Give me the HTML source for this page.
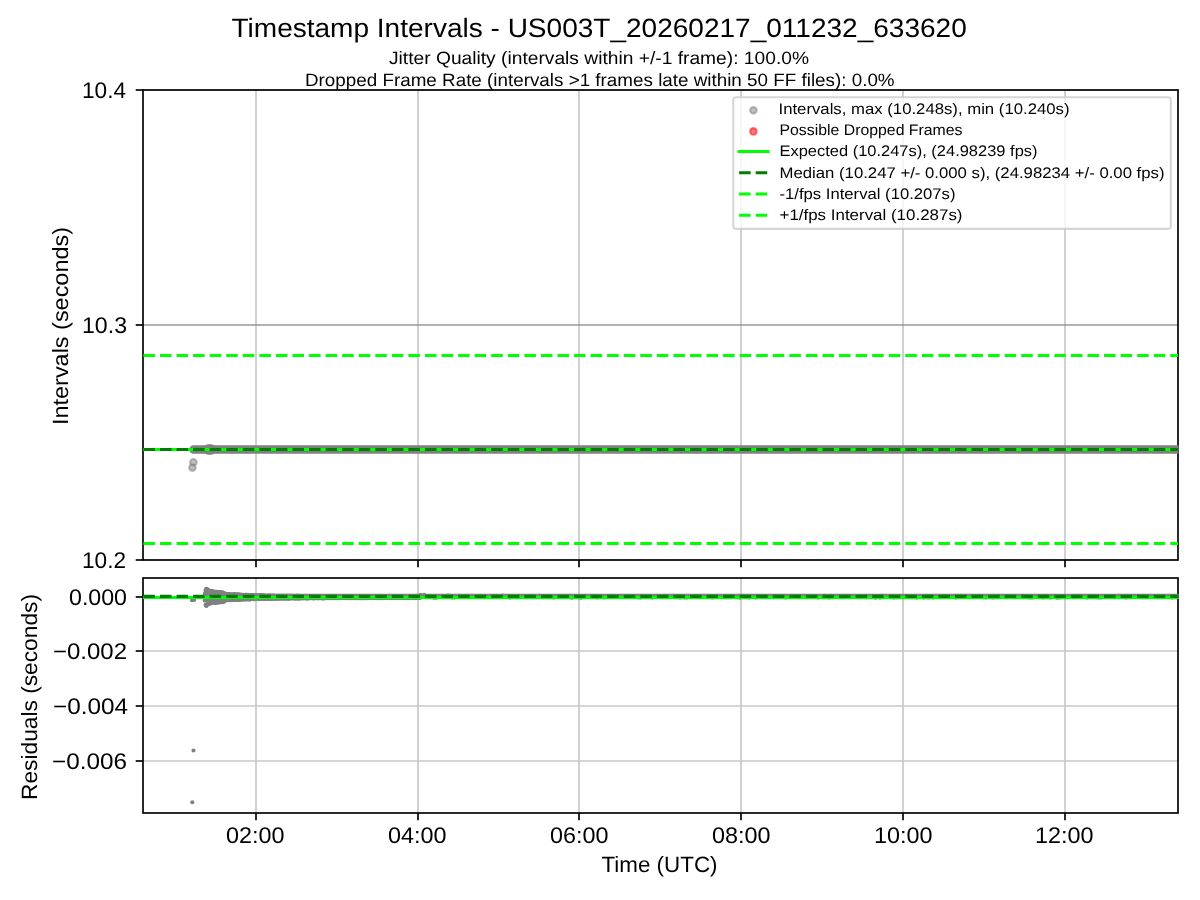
<!DOCTYPE html>
<html><head><meta charset="utf-8"><title>Timestamp Intervals</title>
<style>
html,body{margin:0;padding:0;background:#fff;}
body{width:1200px;height:900px;overflow:hidden;}
svg{display:block;will-change:transform;}
svg text{font-family:"Liberation Sans",sans-serif;fill:#000;text-rendering:geometricPrecision;}
</style></head><body>
<svg xmlns="http://www.w3.org/2000/svg" width="1200" height="900" viewBox="0 0 1200 900">
<rect x="0" y="0" width="1200" height="900" fill="#ffffff"/>
<defs><clipPath id="c1"><rect x="143" y="90" width="1035.6" height="470"/></clipPath><clipPath id="c2"><rect x="143" y="578" width="1035.6" height="235"/></clipPath></defs>
<g id="ax1">
<g stroke="#c8c8c8" stroke-width="1.667" fill="none">
<line x1="256" y1="90" x2="256" y2="560"/>
<line x1="418" y1="90" x2="418" y2="560"/>
<line x1="579" y1="90" x2="579" y2="560"/>
<line x1="741" y1="90" x2="741" y2="560"/>
<line x1="903" y1="90" x2="903" y2="560"/>
<line x1="1065" y1="90" x2="1065" y2="560"/>
<line x1="143" y1="90" x2="1178" y2="90"/>
<line x1="143" y1="560" x2="1178" y2="560"/>
</g>
<line x1="143" y1="325" x2="1178" y2="325" stroke="#808080" stroke-opacity="0.8" stroke-width="1.667"/>
<g stroke="#000" stroke-width="1.667">
<line x1="135.7" y1="90" x2="143" y2="90"/>
<line x1="135.7" y1="325" x2="143" y2="325"/>
<line x1="135.7" y1="560" x2="143" y2="560"/>
<line x1="256" y1="560" x2="256" y2="567.3"/>
<line x1="418" y1="560" x2="418" y2="567.3"/>
<line x1="579" y1="560" x2="579" y2="567.3"/>
<line x1="741" y1="560" x2="741" y2="567.3"/>
<line x1="903" y1="560" x2="903" y2="567.3"/>
<line x1="1065" y1="560" x2="1065" y2="567.3"/>
</g>
<rect x="143" y="90" width="1035" height="470" fill="none" stroke="#000" stroke-width="1.667"/>
<g clip-path="url(#c1)">
<line x1="193.6" y1="449.5" x2="1190" y2="449.5" stroke="#808080" stroke-width="8.7" stroke-linecap="round"/>
<line x1="208.2" y1="449.4" x2="211.2" y2="449.4" stroke="#808080" stroke-width="10.5" stroke-linecap="round"/>
<circle cx="193.4" cy="462.3" r="3.29" fill="#808080" fill-opacity="0.5" stroke="#808080" stroke-opacity="0.5" stroke-width="2.08"/>
<circle cx="192.4" cy="467.6" r="3.29" fill="#808080" fill-opacity="0.5" stroke="#808080" stroke-opacity="0.5" stroke-width="2.08"/>
<line x1="143" y1="449.5" x2="1178" y2="449.5" stroke="#00ff00" stroke-width="3.125"/>
<line x1="143.4" y1="449.45" x2="1178" y2="449.45" stroke="#008000" stroke-width="3.125" stroke-dasharray="11.5625 5"/>
<line x1="143.4" y1="543.5" x2="1178" y2="543.5" stroke="#00ff00" stroke-width="3.125" stroke-dasharray="11.5625 5"/>
<line x1="143.4" y1="355.5" x2="1178" y2="355.5" stroke="#00ff00" stroke-width="3.125" stroke-dasharray="11.5625 5"/>
</g>
<g id="legend">
<rect x="733.3" y="97.2" width="437.5" height="131.7" rx="2.9" ry="2.9" fill="#ffffff" fill-opacity="0.8" stroke="#cccccc" stroke-opacity="0.8" stroke-width="2.083"/>
<circle cx="753.4" cy="110.3" r="3.29" fill="#808080" fill-opacity="0.5" stroke="#808080" stroke-opacity="0.5" stroke-width="2.08"/>
<circle cx="753.4" cy="131.4" r="3.29" fill="#ff0000" fill-opacity="0.5" stroke="#ff0000" stroke-opacity="0.5" stroke-width="2.08"/>
<line x1="737.5" y1="151.5" x2="769.6" y2="151.5" stroke="#00ff00" stroke-width="3.125"/>
<line x1="739.1" y1="172.8" x2="768.0" y2="172.8" stroke="#008000" stroke-width="3.125" stroke-dasharray="11.5625 5"/>
<line x1="739.1" y1="194.0" x2="768.0" y2="194.0" stroke="#00ff00" stroke-width="3.125" stroke-dasharray="11.5625 5"/>
<line x1="739.1" y1="215.2" x2="768.0" y2="215.2" stroke="#00ff00" stroke-width="3.125" stroke-dasharray="11.5625 5"/>
</g>
</g>
<g id="ax2">
<g stroke="#c8c8c8" stroke-width="1.667" fill="none">
<line x1="256" y1="578" x2="256" y2="813"/>
<line x1="418" y1="578" x2="418" y2="813"/>
<line x1="579" y1="578" x2="579" y2="813"/>
<line x1="741" y1="578" x2="741" y2="813"/>
<line x1="903" y1="578" x2="903" y2="813"/>
<line x1="1065" y1="578" x2="1065" y2="813"/>
<line x1="143" y1="597" x2="1178" y2="597"/>
<line x1="143" y1="651" x2="1178" y2="651"/>
<line x1="143" y1="706" x2="1178" y2="706"/>
<line x1="143" y1="761" x2="1178" y2="761"/>
</g>
<g stroke="#000" stroke-width="1.667">
<line x1="135.7" y1="597" x2="143" y2="597"/>
<line x1="135.7" y1="651" x2="143" y2="651"/>
<line x1="135.7" y1="706" x2="143" y2="706"/>
<line x1="135.7" y1="761" x2="143" y2="761"/>
<line x1="256" y1="813" x2="256" y2="820.3"/>
<line x1="418" y1="813" x2="418" y2="820.3"/>
<line x1="579" y1="813" x2="579" y2="820.3"/>
<line x1="741" y1="813" x2="741" y2="820.3"/>
<line x1="903" y1="813" x2="903" y2="820.3"/>
<line x1="1065" y1="813" x2="1065" y2="820.3"/>
</g>
<rect x="143" y="578" width="1035" height="235" fill="none" stroke="#000" stroke-width="1.667"/>
<g clip-path="url(#c2)">
<path d="M205,596.55 L1180,596.55" stroke="#808080" stroke-width="5.5" fill="none"/>
<path d="M204.6,596.6 L206.1,590.5 L207.6,590.9 L209.1,591.6 L210.6,592.1 L212.1,592.3 L213.6,592.4 L215.1,592.6 L216.6,592.8 L218.1,592.9 L219.6,593.1 L221.1,593.2 L222.6,593.4 L224.1,593.6 L225.6,594.4 L227.1,594.7 L228.6,594.7 L230.1,594.8 L231.6,594.8 L233.1,594.8 L234.6,594.9 L236.1,594.9 L237.6,595.0 L239.1,595.0 L240.6,595.1 L242.1,595.1 L243.6,595.2 L245.1,595.3 L246.6,595.3 L248.1,595.4 L249.6,595.4 L251.1,595.5 L252.6,595.6 L254.1,595.6 L255.6,595.7 L257.1,595.7 L258.6,595.7 L260.1,595.7 L261.6,595.8 L263.1,595.8 L264.6,595.8 L266.1,595.8 L267.6,595.8 L269.1,595.9 L270.6,595.9 L272.1,595.9 L273.6,595.9 L275.1,595.9 L276.6,596.0 L278.1,596.0 L279.6,596.0 L281.1,596.0 L282.6,596.0 L284.1,596.0 L285.6,596.0 L287.1,596.1 L288.6,596.1 L290.1,596.1 L291.6,596.1 L293.1,596.1 L294.6,596.1 L296.1,596.1 L297.6,596.1 L299.1,596.2 L300.6,596.2 L302.1,596.2 L303.6,596.2 L305.1,596.2 L306.6,596.2 L308.1,596.2 L309.6,596.2 L311.1,596.2 L312.6,596.2 L314.1,596.2 L315.6,596.2 L317.1,596.2 L318.6,596.2 L320.1,596.2 L321.6,596.2 L323.1,596.2 L324.6,596.2 L326.1,596.2 L327.6,596.2 L329.1,596.3 L330.6,596.3 L332.1,596.3 L333.6,596.3 L335.1,596.3 L336.6,596.3 L338.1,596.3 L339.6,596.3 L341.1,596.3 L342.6,596.3 L344.1,596.3 L345.6,596.3 L347.1,596.3 L348.6,596.3 L350.1,596.3 L351.6,596.3 L353.1,596.3 L354.6,596.3 L356.1,596.3 L357.6,596.3 L359.1,596.3 L360.6,596.4 L362.1,596.4 L363.6,596.4 L365.1,596.4 L366.6,596.4 L368.1,596.4 L369.6,596.4 L371.1,596.4 L372.6,596.4 L374.1,596.4 L375.6,596.4 L377.1,596.4 L378.6,596.4 L380.1,596.4 L381.6,596.4 L383.1,596.4 L384.6,596.4 L386.1,596.4 L387.6,596.4 L389.1,596.4 L390.6,596.4 L392.1,596.5 L393.6,596.5 L395.1,596.5 L396.6,596.5 L398.1,596.5 L399.6,596.5 L401.1,596.5 L402.6,596.5 L404.1,596.5 L405.6,596.5 L407.1,596.5 L408.6,596.5 L410.1,596.5 L411.6,596.5 L413.1,596.5 L414.6,596.5 L416.1,596.5 L417.6,596.5 L419.1,596.5 L419.1,597.9 L417.6,597.9 L416.1,597.9 L414.6,597.9 L413.1,597.9 L411.6,597.9 L410.1,597.9 L408.6,597.9 L407.1,597.9 L405.6,597.9 L404.1,597.9 L402.6,597.9 L401.1,597.9 L399.6,597.9 L398.1,597.9 L396.6,597.9 L395.1,597.9 L393.6,597.9 L392.1,597.9 L390.6,598.0 L389.1,598.0 L387.6,598.0 L386.1,598.0 L384.6,598.0 L383.1,598.0 L381.6,598.0 L380.1,598.0 L378.6,598.0 L377.1,598.0 L375.6,598.0 L374.1,598.0 L372.6,598.0 L371.1,598.0 L369.6,598.0 L368.1,598.0 L366.6,598.0 L365.1,598.0 L363.6,598.0 L362.1,598.0 L360.6,598.0 L359.1,598.1 L357.6,598.1 L356.1,598.1 L354.6,598.1 L353.1,598.1 L351.6,598.1 L350.1,598.1 L348.6,598.1 L347.1,598.1 L345.6,598.1 L344.1,598.1 L342.6,598.1 L341.1,598.1 L339.6,598.1 L338.1,598.1 L336.6,598.1 L335.1,598.1 L333.6,598.1 L332.1,598.1 L330.6,598.1 L329.1,598.1 L327.6,598.2 L326.1,598.2 L324.6,598.2 L323.1,598.2 L321.6,598.2 L320.1,598.2 L318.6,598.2 L317.1,598.2 L315.6,598.2 L314.1,598.2 L312.6,598.2 L311.1,598.2 L309.6,598.2 L308.1,598.2 L306.6,598.2 L305.1,598.2 L303.6,598.2 L302.1,598.2 L300.6,598.2 L299.1,598.2 L297.6,598.3 L296.1,598.3 L294.6,598.3 L293.1,598.3 L291.6,598.3 L290.1,598.3 L288.6,598.3 L287.1,598.3 L285.6,598.4 L284.1,598.4 L282.6,598.4 L281.1,598.4 L279.6,598.4 L278.1,598.4 L276.6,598.4 L275.1,598.5 L273.6,598.5 L272.1,598.5 L270.6,598.5 L269.1,598.5 L267.6,598.6 L266.1,598.6 L264.6,598.6 L263.1,598.6 L261.6,598.6 L260.1,598.7 L258.6,598.7 L257.1,598.7 L255.6,598.7 L254.1,598.8 L252.6,598.8 L251.1,598.9 L249.6,599.0 L248.1,599.0 L246.6,599.1 L245.1,599.1 L243.6,599.2 L242.1,599.3 L240.6,599.3 L239.1,599.4 L237.6,599.4 L236.1,599.5 L234.6,599.5 L233.1,599.6 L231.6,599.6 L230.1,599.6 L228.6,599.7 L227.1,599.7 L225.6,600.0 L224.1,600.8 L222.6,601.0 L221.1,601.2 L219.6,601.3 L218.1,601.5 L216.6,601.6 L215.1,601.8 L213.6,602.0 L212.1,602.1 L210.6,602.3 L209.1,602.8 L207.6,603.5 L206.1,603.9 L204.6,597.8 Z" fill="#808080"/>
<g fill="#808080">
<circle cx="204.8" cy="593.6" r="2.05"/>
<circle cx="204.7" cy="600.4" r="2.05"/>
<circle cx="205.5" cy="590.4" r="2.05"/>
<circle cx="205.6" cy="604.8" r="2.05"/>
<circle cx="206.1" cy="588.8" r="2.05"/>
<circle cx="205.9" cy="605.6" r="2.05"/>
<circle cx="206.8" cy="588.9" r="2.05"/>
<circle cx="206.5" cy="606.0" r="2.05"/>
<circle cx="207.5" cy="590.0" r="2.05"/>
<circle cx="207.1" cy="604.5" r="2.05"/>
<circle cx="207.5" cy="592.0" r="2.05"/>
<circle cx="207.6" cy="603.0" r="2.05"/>
<circle cx="208.1" cy="589.9" r="2.05"/>
<circle cx="208.5" cy="604.3" r="2.05"/>
<circle cx="208.9" cy="590.2" r="2.05"/>
<circle cx="208.8" cy="603.3" r="2.05"/>
<circle cx="209.1" cy="591.1" r="2.05"/>
<circle cx="209.2" cy="604.0" r="2.05"/>
<circle cx="209.9" cy="591.7" r="2.05"/>
<circle cx="210.0" cy="603.5" r="2.05"/>
<circle cx="210.4" cy="591.2" r="2.05"/>
<circle cx="210.6" cy="602.2" r="2.05"/>
<circle cx="211.1" cy="591.0" r="2.05"/>
<circle cx="211.3" cy="602.9" r="2.05"/>
<circle cx="211.5" cy="592.1" r="2.05"/>
<circle cx="211.4" cy="601.4" r="2.05"/>
<circle cx="212.3" cy="591.4" r="2.05"/>
<circle cx="212.1" cy="603.3" r="2.05"/>
<circle cx="212.8" cy="591.1" r="2.05"/>
<circle cx="212.7" cy="602.0" r="2.05"/>
<circle cx="213.1" cy="592.8" r="2.05"/>
<circle cx="213.3" cy="602.2" r="2.05"/>
<circle cx="213.8" cy="592.0" r="2.05"/>
<circle cx="214.1" cy="601.7" r="2.05"/>
<circle cx="214.4" cy="591.8" r="2.05"/>
<circle cx="214.5" cy="603.0" r="2.05"/>
<circle cx="215.2" cy="592.3" r="2.05"/>
<circle cx="214.8" cy="601.6" r="2.05"/>
<circle cx="215.6" cy="591.8" r="2.05"/>
<circle cx="215.4" cy="602.9" r="2.05"/>
<circle cx="215.8" cy="591.7" r="2.05"/>
<circle cx="216.2" cy="602.8" r="2.05"/>
<circle cx="216.4" cy="591.7" r="2.05"/>
<circle cx="216.8" cy="602.4" r="2.05"/>
<circle cx="217.1" cy="591.7" r="2.05"/>
<circle cx="217.3" cy="602.1" r="2.05"/>
<circle cx="217.9" cy="593.1" r="2.05"/>
<circle cx="217.6" cy="602.4" r="2.05"/>
<circle cx="218.4" cy="592.1" r="2.05"/>
<circle cx="218.0" cy="600.8" r="2.05"/>
<circle cx="218.6" cy="592.0" r="2.05"/>
<circle cx="218.7" cy="602.4" r="2.05"/>
<circle cx="219.2" cy="592.6" r="2.05"/>
<circle cx="219.3" cy="602.4" r="2.05"/>
<circle cx="219.9" cy="592.3" r="2.05"/>
<circle cx="220.0" cy="600.7" r="2.05"/>
<circle cx="220.5" cy="592.6" r="2.05"/>
<circle cx="220.1" cy="601.4" r="2.05"/>
<circle cx="221.1" cy="593.6" r="2.05"/>
<circle cx="221.1" cy="600.8" r="2.05"/>
<circle cx="221.4" cy="592.6" r="2.05"/>
<circle cx="221.6" cy="602.1" r="2.05"/>
<circle cx="221.8" cy="592.4" r="2.05"/>
<circle cx="221.8" cy="602.0" r="2.05"/>
<circle cx="222.3" cy="592.6" r="2.05"/>
<circle cx="222.4" cy="602.0" r="2.05"/>
<circle cx="223.1" cy="592.5" r="2.05"/>
<circle cx="223.4" cy="601.9" r="2.05"/>
<circle cx="223.5" cy="593.2" r="2.05"/>
<circle cx="223.6" cy="601.7" r="2.05"/>
<circle cx="224.0" cy="593.0" r="2.05"/>
<circle cx="224.5" cy="600.5" r="2.05"/>
<circle cx="224.8" cy="593.5" r="2.05"/>
<circle cx="224.6" cy="601.2" r="2.05"/>
<circle cx="225.2" cy="593.7" r="2.05"/>
<circle cx="225.1" cy="600.0" r="2.05"/>
<circle cx="226.2" cy="593.9" r="2.05"/>
<circle cx="225.7" cy="600.2" r="2.05"/>
<circle cx="226.2" cy="594.3" r="2.05"/>
<circle cx="226.7" cy="600.1" r="2.05"/>
<circle cx="227.1" cy="594.9" r="2.05"/>
<circle cx="226.9" cy="600.3" r="2.05"/>
<circle cx="227.7" cy="594.1" r="2.05"/>
<circle cx="227.7" cy="600.0" r="2.05"/>
<circle cx="227.9" cy="594.2" r="2.05"/>
<circle cx="228.4" cy="599.6" r="2.05"/>
<circle cx="228.8" cy="594.9" r="2.05"/>
<circle cx="228.8" cy="599.6" r="2.05"/>
<circle cx="229.2" cy="594.2" r="2.05"/>
<circle cx="228.9" cy="600.1" r="2.05"/>
<circle cx="229.6" cy="594.1" r="2.05"/>
<circle cx="229.9" cy="600.2" r="2.05"/>
<circle cx="230.3" cy="595.1" r="2.05"/>
<circle cx="230.6" cy="599.3" r="2.05"/>
<circle cx="230.8" cy="595.1" r="2.05"/>
<circle cx="230.7" cy="600.2" r="2.05"/>
<circle cx="231.2" cy="594.2" r="2.05"/>
<circle cx="231.6" cy="599.8" r="2.05"/>
<circle cx="231.9" cy="595.0" r="2.05"/>
<circle cx="232.1" cy="599.7" r="2.05"/>
<circle cx="232.6" cy="594.2" r="2.05"/>
<circle cx="232.7" cy="599.3" r="2.05"/>
<circle cx="233.0" cy="594.8" r="2.05"/>
<circle cx="233.2" cy="600.1" r="2.05"/>
<circle cx="233.8" cy="594.4" r="2.05"/>
<circle cx="233.5" cy="599.2" r="2.05"/>
<circle cx="234.4" cy="594.5" r="2.05"/>
<circle cx="234.0" cy="599.6" r="2.05"/>
<circle cx="234.5" cy="594.3" r="2.05"/>
<circle cx="234.9" cy="599.3" r="2.05"/>
<circle cx="235.4" cy="594.4" r="2.05"/>
<circle cx="235.3" cy="599.1" r="2.05"/>
<circle cx="235.8" cy="594.5" r="2.05"/>
<circle cx="235.5" cy="600.0" r="2.05"/>
<circle cx="236.4" cy="595.3" r="2.05"/>
<circle cx="236.6" cy="599.8" r="2.05"/>
<circle cx="237.1" cy="594.6" r="2.05"/>
<circle cx="236.7" cy="599.3" r="2.05"/>
<circle cx="237.3" cy="594.5" r="2.05"/>
<circle cx="237.5" cy="599.9" r="2.05"/>
<circle cx="238.0" cy="594.5" r="2.05"/>
<circle cx="238.2" cy="600.0" r="2.05"/>
<circle cx="238.5" cy="594.6" r="2.05"/>
<circle cx="238.8" cy="599.6" r="2.05"/>
<circle cx="239.4" cy="594.6" r="2.05"/>
<circle cx="239.1" cy="599.7" r="2.05"/>
<circle cx="239.4" cy="594.7" r="2.05"/>
<circle cx="239.5" cy="599.7" r="2.05"/>
<circle cx="240.4" cy="594.5" r="2.05"/>
<circle cx="240.2" cy="599.9" r="2.05"/>
<circle cx="240.8" cy="595.0" r="2.05"/>
<circle cx="240.8" cy="599.8" r="2.05"/>
<circle cx="241.5" cy="594.9" r="2.05"/>
<circle cx="241.3" cy="599.8" r="2.05"/>
<circle cx="241.7" cy="594.7" r="2.05"/>
<circle cx="241.9" cy="599.3" r="2.05"/>
<circle cx="242.6" cy="594.9" r="2.05"/>
<circle cx="242.4" cy="599.0" r="2.05"/>
<circle cx="243.0" cy="595.0" r="2.05"/>
<circle cx="243.1" cy="599.5" r="2.05"/>
<circle cx="243.5" cy="594.9" r="2.05"/>
<circle cx="243.8" cy="599.5" r="2.05"/>
<circle cx="244.3" cy="595.1" r="2.05"/>
<circle cx="243.9" cy="598.9" r="2.05"/>
<circle cx="244.9" cy="595.0" r="2.05"/>
<circle cx="244.4" cy="599.0" r="2.05"/>
<circle cx="245.1" cy="594.8" r="2.05"/>
<circle cx="245.0" cy="599.6" r="2.05"/>
<circle cx="245.8" cy="594.8" r="2.05"/>
<circle cx="245.9" cy="599.1" r="2.05"/>
<circle cx="246.4" cy="594.9" r="2.05"/>
<circle cx="246.0" cy="599.2" r="2.05"/>
<circle cx="247.1" cy="595.5" r="2.05"/>
<circle cx="247.1" cy="599.5" r="2.05"/>
<circle cx="247.3" cy="595.0" r="2.05"/>
<circle cx="247.5" cy="598.7" r="2.05"/>
<circle cx="247.9" cy="594.9" r="2.05"/>
<circle cx="247.8" cy="599.3" r="2.05"/>
<circle cx="248.3" cy="595.0" r="2.05"/>
<circle cx="248.2" cy="599.0" r="2.05"/>
<circle cx="249.0" cy="595.2" r="2.05"/>
<circle cx="248.9" cy="599.4" r="2.05"/>
<circle cx="249.6" cy="595.3" r="2.05"/>
<circle cx="249.8" cy="599.4" r="2.05"/>
<circle cx="250.4" cy="595.5" r="2.05"/>
<circle cx="250.0" cy="599.4" r="2.05"/>
<circle cx="250.8" cy="595.1" r="2.05"/>
<circle cx="250.4" cy="599.3" r="2.05"/>
<circle cx="251.4" cy="595.2" r="2.05"/>
<circle cx="251.1" cy="598.8" r="2.05"/>
<circle cx="252.0" cy="595.1" r="2.05"/>
<circle cx="251.9" cy="599.0" r="2.05"/>
<circle cx="252.0" cy="595.2" r="2.05"/>
<circle cx="252.3" cy="598.9" r="2.05"/>
<circle cx="253.1" cy="595.2" r="2.05"/>
<circle cx="253.0" cy="598.9" r="2.05"/>
<circle cx="253.6" cy="595.2" r="2.05"/>
<circle cx="253.6" cy="599.2" r="2.05"/>
<circle cx="253.9" cy="595.4" r="2.05"/>
<circle cx="254.2" cy="598.9" r="2.05"/>
<circle cx="254.3" cy="595.3" r="2.05"/>
<circle cx="254.3" cy="598.9" r="2.05"/>
<circle cx="254.8" cy="595.3" r="2.05"/>
<circle cx="254.9" cy="599.1" r="2.05"/>
<circle cx="255.5" cy="595.4" r="2.05"/>
<circle cx="255.5" cy="598.7" r="2.05"/>
<circle cx="256.0" cy="595.5" r="2.05"/>
<circle cx="255.9" cy="599.0" r="2.05"/>
<circle cx="256.4" cy="595.4" r="2.05"/>
<circle cx="256.7" cy="598.7" r="2.05"/>
<circle cx="257.2" cy="595.4" r="2.05"/>
<circle cx="257.0" cy="598.5" r="2.05"/>
<circle cx="257.8" cy="595.8" r="2.05"/>
<circle cx="258.0" cy="598.9" r="2.05"/>
<circle cx="258.4" cy="595.5" r="2.05"/>
<circle cx="258.6" cy="598.7" r="2.05"/>
<circle cx="259.1" cy="595.4" r="2.05"/>
<circle cx="259.0" cy="598.7" r="2.05"/>
<circle cx="259.4" cy="595.5" r="2.05"/>
<circle cx="259.2" cy="599.0" r="2.05"/>
<circle cx="260.1" cy="595.4" r="2.05"/>
<circle cx="259.8" cy="599.0" r="2.05"/>
<circle cx="260.8" cy="595.4" r="2.05"/>
<circle cx="260.7" cy="598.5" r="2.05"/>
<circle cx="260.9" cy="595.4" r="2.05"/>
<circle cx="261.1" cy="598.9" r="2.05"/>
<circle cx="261.6" cy="595.4" r="2.05"/>
<circle cx="261.9" cy="599.0" r="2.05"/>
<circle cx="262.2" cy="596.0" r="2.05"/>
<circle cx="262.5" cy="598.9" r="2.05"/>
<circle cx="262.7" cy="595.5" r="2.05"/>
<circle cx="262.7" cy="599.0" r="2.05"/>
<circle cx="263.3" cy="595.6" r="2.05"/>
<circle cx="263.3" cy="598.9" r="2.05"/>
<circle cx="263.7" cy="595.4" r="2.05"/>
<circle cx="263.8" cy="599.0" r="2.05"/>
<circle cx="264.1" cy="595.5" r="2.05"/>
<circle cx="264.2" cy="598.9" r="2.05"/>
<circle cx="265.0" cy="595.7" r="2.05"/>
<circle cx="265.0" cy="598.6" r="2.05"/>
<circle cx="265.7" cy="595.8" r="2.05"/>
<circle cx="265.4" cy="598.8" r="2.05"/>
<circle cx="265.8" cy="596.1" r="2.05"/>
<circle cx="266.1" cy="598.6" r="2.05"/>
<circle cx="266.8" cy="595.5" r="2.05"/>
<circle cx="266.7" cy="598.4" r="2.05"/>
<circle cx="267.3" cy="595.8" r="2.05"/>
<circle cx="267.2" cy="598.9" r="2.05"/>
<circle cx="267.9" cy="595.7" r="2.05"/>
<circle cx="267.9" cy="598.5" r="2.05"/>
<circle cx="268.5" cy="595.7" r="2.05"/>
<circle cx="268.4" cy="598.6" r="2.05"/>
<circle cx="268.5" cy="595.6" r="2.05"/>
<circle cx="268.7" cy="598.9" r="2.05"/>
<circle cx="269.6" cy="595.5" r="2.05"/>
<circle cx="269.4" cy="598.7" r="2.05"/>
<circle cx="270.0" cy="595.8" r="2.05"/>
<circle cx="269.6" cy="598.7" r="2.05"/>
<circle cx="270.6" cy="595.9" r="2.05"/>
<circle cx="270.5" cy="598.7" r="2.05"/>
<circle cx="270.7" cy="595.8" r="2.05"/>
<circle cx="270.9" cy="598.5" r="2.05"/>
<circle cx="271.4" cy="595.6" r="2.05"/>
<circle cx="271.4" cy="598.5" r="2.05"/>
<circle cx="272.4" cy="595.9" r="2.05"/>
<circle cx="272.0" cy="598.7" r="2.05"/>
<circle cx="272.8" cy="595.7" r="2.05"/>
<circle cx="272.7" cy="598.5" r="2.05"/>
<circle cx="272.9" cy="595.8" r="2.05"/>
<circle cx="273.1" cy="598.8" r="2.05"/>
<circle cx="273.6" cy="595.9" r="2.05"/>
<circle cx="273.5" cy="598.6" r="2.05"/>
<circle cx="274.2" cy="595.6" r="2.05"/>
<circle cx="274.4" cy="598.5" r="2.05"/>
<circle cx="274.7" cy="595.9" r="2.05"/>
<circle cx="274.8" cy="598.6" r="2.05"/>
<circle cx="275.2" cy="595.7" r="2.05"/>
<circle cx="275.2" cy="598.3" r="2.05"/>
<circle cx="276.2" cy="596.2" r="2.05"/>
<circle cx="275.9" cy="598.8" r="2.05"/>
<circle cx="276.8" cy="596.0" r="2.05"/>
<circle cx="276.4" cy="598.6" r="2.05"/>
<circle cx="277.3" cy="595.7" r="2.05"/>
<circle cx="277.1" cy="598.7" r="2.05"/>
<circle cx="277.6" cy="595.7" r="2.05"/>
<circle cx="277.4" cy="598.2" r="2.05"/>
<circle cx="278.2" cy="596.0" r="2.05"/>
<circle cx="278.3" cy="598.3" r="2.05"/>
<circle cx="278.9" cy="595.7" r="2.05"/>
<circle cx="278.4" cy="598.6" r="2.05"/>
<circle cx="279.2" cy="595.7" r="2.05"/>
<circle cx="279.1" cy="598.6" r="2.05"/>
<circle cx="279.7" cy="595.7" r="2.05"/>
<circle cx="280.0" cy="598.7" r="2.05"/>
<circle cx="280.5" cy="595.7" r="2.05"/>
<circle cx="280.1" cy="598.3" r="2.05"/>
<circle cx="281.0" cy="596.2" r="2.05"/>
<circle cx="280.8" cy="598.3" r="2.05"/>
<circle cx="281.4" cy="595.8" r="2.05"/>
<circle cx="281.5" cy="598.2" r="2.05"/>
<circle cx="282.0" cy="595.8" r="2.05"/>
<circle cx="281.7" cy="598.6" r="2.05"/>
<circle cx="282.8" cy="595.7" r="2.05"/>
<circle cx="282.8" cy="598.6" r="2.05"/>
<circle cx="283.0" cy="595.8" r="2.05"/>
<circle cx="282.9" cy="598.5" r="2.05"/>
<circle cx="283.9" cy="595.8" r="2.05"/>
<circle cx="283.8" cy="598.3" r="2.05"/>
<circle cx="284.4" cy="595.9" r="2.05"/>
<circle cx="284.2" cy="598.2" r="2.05"/>
<circle cx="284.5" cy="596.0" r="2.05"/>
<circle cx="284.7" cy="598.4" r="2.05"/>
<circle cx="285.4" cy="596.0" r="2.05"/>
<circle cx="285.0" cy="598.6" r="2.05"/>
<circle cx="285.6" cy="596.2" r="2.05"/>
<circle cx="285.8" cy="598.5" r="2.05"/>
<circle cx="286.5" cy="595.8" r="2.05"/>
<circle cx="286.3" cy="598.2" r="2.05"/>
<circle cx="286.8" cy="596.0" r="2.05"/>
<circle cx="286.9" cy="598.5" r="2.05"/>
<circle cx="287.3" cy="595.8" r="2.05"/>
<circle cx="287.7" cy="598.6" r="2.05"/>
<circle cx="287.9" cy="595.9" r="2.05"/>
<circle cx="288.3" cy="598.2" r="2.05"/>
<circle cx="288.4" cy="595.9" r="2.05"/>
<circle cx="288.4" cy="598.6" r="2.05"/>
<circle cx="288.9" cy="595.8" r="2.05"/>
<circle cx="289.0" cy="598.6" r="2.05"/>
<circle cx="289.9" cy="596.0" r="2.05"/>
<circle cx="289.6" cy="598.3" r="2.05"/>
<circle cx="290.3" cy="595.9" r="2.05"/>
<circle cx="290.2" cy="598.5" r="2.05"/>
<circle cx="290.7" cy="595.8" r="2.05"/>
<circle cx="290.6" cy="598.1" r="2.05"/>
<circle cx="291.4" cy="595.9" r="2.05"/>
<circle cx="291.2" cy="598.2" r="2.05"/>
<circle cx="291.7" cy="595.9" r="2.05"/>
<circle cx="291.9" cy="598.5" r="2.05"/>
<circle cx="292.7" cy="596.3" r="2.05"/>
<circle cx="292.2" cy="598.2" r="2.05"/>
<circle cx="293.1" cy="595.8" r="2.05"/>
<circle cx="293.0" cy="598.2" r="2.05"/>
<circle cx="293.3" cy="596.0" r="2.05"/>
<circle cx="293.8" cy="598.5" r="2.05"/>
<circle cx="294.3" cy="596.2" r="2.05"/>
<circle cx="293.9" cy="598.1" r="2.05"/>
<circle cx="294.4" cy="595.9" r="2.05"/>
<circle cx="294.8" cy="598.4" r="2.05"/>
<circle cx="295.3" cy="596.3" r="2.05"/>
<circle cx="295.4" cy="598.4" r="2.05"/>
<circle cx="295.8" cy="596.0" r="2.05"/>
<circle cx="295.9" cy="598.5" r="2.05"/>
<circle cx="296.6" cy="595.9" r="2.05"/>
<circle cx="296.2" cy="598.3" r="2.05"/>
<circle cx="296.7" cy="595.9" r="2.05"/>
<circle cx="297.0" cy="598.3" r="2.05"/>
<circle cx="297.1" cy="595.9" r="2.05"/>
<circle cx="297.4" cy="598.4" r="2.05"/>
<circle cx="297.8" cy="595.9" r="2.05"/>
<circle cx="297.7" cy="598.4" r="2.05"/>
<circle cx="298.5" cy="595.9" r="2.05"/>
<circle cx="298.6" cy="598.1" r="2.05"/>
<circle cx="299.0" cy="596.2" r="2.05"/>
<circle cx="298.9" cy="598.5" r="2.05"/>
<circle cx="299.7" cy="596.3" r="2.05"/>
<circle cx="299.3" cy="598.5" r="2.05"/>
<circle cx="300.3" cy="596.0" r="2.05"/>
<circle cx="300.0" cy="598.4" r="2.05"/>
<circle cx="301.5" cy="596.1" r="2.05"/>
<circle cx="301.0" cy="598.5" r="2.05"/>
<circle cx="302.3" cy="596.0" r="2.05"/>
<circle cx="302.2" cy="598.3" r="2.05"/>
<circle cx="303.6" cy="596.2" r="2.05"/>
<circle cx="303.3" cy="598.4" r="2.05"/>
<circle cx="304.4" cy="596.3" r="2.05"/>
<circle cx="304.4" cy="598.2" r="2.05"/>
<circle cx="305.8" cy="595.9" r="2.05"/>
<circle cx="305.9" cy="598.4" r="2.05"/>
<circle cx="306.6" cy="596.0" r="2.05"/>
<circle cx="306.7" cy="598.5" r="2.05"/>
<circle cx="308.1" cy="596.1" r="2.05"/>
<circle cx="307.8" cy="598.5" r="2.05"/>
<circle cx="309.2" cy="596.0" r="2.05"/>
<circle cx="308.7" cy="598.5" r="2.05"/>
<circle cx="310.0" cy="595.9" r="2.05"/>
<circle cx="310.3" cy="598.1" r="2.05"/>
<circle cx="311.4" cy="596.2" r="2.05"/>
<circle cx="311.0" cy="598.1" r="2.05"/>
<circle cx="312.5" cy="596.0" r="2.05"/>
<circle cx="312.0" cy="598.2" r="2.05"/>
<circle cx="313.3" cy="596.1" r="2.05"/>
<circle cx="313.2" cy="598.4" r="2.05"/>
<circle cx="314.2" cy="596.0" r="2.05"/>
<circle cx="314.4" cy="598.4" r="2.05"/>
<circle cx="315.3" cy="596.4" r="2.05"/>
<circle cx="315.4" cy="598.0" r="2.05"/>
<circle cx="316.8" cy="596.0" r="2.05"/>
<circle cx="316.6" cy="598.1" r="2.05"/>
<circle cx="317.7" cy="596.0" r="2.05"/>
<circle cx="318.0" cy="598.4" r="2.05"/>
<circle cx="318.8" cy="596.0" r="2.05"/>
<circle cx="318.6" cy="598.1" r="2.05"/>
<circle cx="320.1" cy="596.1" r="2.05"/>
<circle cx="319.7" cy="598.2" r="2.05"/>
<circle cx="320.8" cy="596.0" r="2.05"/>
<circle cx="320.9" cy="598.1" r="2.05"/>
<circle cx="322.4" cy="596.2" r="2.05"/>
<circle cx="322.0" cy="598.4" r="2.05"/>
<circle cx="323.3" cy="596.4" r="2.05"/>
<circle cx="323.4" cy="598.4" r="2.05"/>
<circle cx="324.2" cy="596.0" r="2.05"/>
<circle cx="324.5" cy="598.4" r="2.05"/>
<circle cx="325.5" cy="596.4" r="2.05"/>
<circle cx="325.2" cy="598.0" r="2.05"/>
<circle cx="326.5" cy="596.0" r="2.05"/>
<circle cx="326.8" cy="598.0" r="2.05"/>
<circle cx="327.5" cy="596.1" r="2.05"/>
<circle cx="327.6" cy="598.3" r="2.05"/>
<circle cx="328.6" cy="596.4" r="2.05"/>
<circle cx="328.9" cy="598.1" r="2.05"/>
<circle cx="330.0" cy="596.3" r="2.05"/>
<circle cx="329.7" cy="598.2" r="2.05"/>
<circle cx="330.9" cy="596.1" r="2.05"/>
<circle cx="330.7" cy="598.1" r="2.05"/>
<circle cx="332.2" cy="596.0" r="2.05"/>
<circle cx="331.8" cy="598.3" r="2.05"/>
<circle cx="333.2" cy="596.0" r="2.05"/>
<circle cx="333.4" cy="598.3" r="2.05"/>
<circle cx="334.5" cy="596.4" r="2.05"/>
<circle cx="334.0" cy="598.3" r="2.05"/>
<circle cx="335.3" cy="596.0" r="2.05"/>
<circle cx="335.3" cy="598.2" r="2.05"/>
<circle cx="336.4" cy="596.1" r="2.05"/>
<circle cx="336.6" cy="598.2" r="2.05"/>
<circle cx="337.8" cy="596.3" r="2.05"/>
<circle cx="337.3" cy="598.2" r="2.05"/>
<circle cx="338.5" cy="596.3" r="2.05"/>
<circle cx="338.6" cy="598.2" r="2.05"/>
<circle cx="339.6" cy="596.3" r="2.05"/>
<circle cx="339.6" cy="598.3" r="2.05"/>
<circle cx="341.1" cy="596.1" r="2.05"/>
<circle cx="340.7" cy="598.2" r="2.05"/>
<circle cx="342.2" cy="596.1" r="2.05"/>
<circle cx="341.8" cy="598.2" r="2.05"/>
<circle cx="343.1" cy="596.3" r="2.05"/>
<circle cx="342.8" cy="597.9" r="2.05"/>
<circle cx="344.3" cy="596.2" r="2.05"/>
<circle cx="344.4" cy="598.0" r="2.05"/>
<circle cx="345.1" cy="596.1" r="2.05"/>
<circle cx="345.1" cy="598.3" r="2.05"/>
<circle cx="346.4" cy="596.5" r="2.05"/>
<circle cx="346.3" cy="598.0" r="2.05"/>
<circle cx="347.4" cy="596.4" r="2.05"/>
<circle cx="347.6" cy="598.3" r="2.05"/>
<circle cx="348.3" cy="596.4" r="2.05"/>
<circle cx="348.6" cy="598.2" r="2.05"/>
<circle cx="349.6" cy="596.1" r="2.05"/>
<circle cx="349.5" cy="598.3" r="2.05"/>
<circle cx="350.8" cy="596.1" r="2.05"/>
<circle cx="350.6" cy="598.1" r="2.05"/>
<circle cx="351.7" cy="596.1" r="2.05"/>
<circle cx="351.7" cy="598.1" r="2.05"/>
<circle cx="352.8" cy="596.1" r="2.05"/>
<circle cx="353.0" cy="598.0" r="2.05"/>
<circle cx="353.8" cy="596.1" r="2.05"/>
<circle cx="354.1" cy="598.2" r="2.05"/>
<circle cx="354.9" cy="596.3" r="2.05"/>
<circle cx="355.3" cy="598.3" r="2.05"/>
<circle cx="356.1" cy="596.2" r="2.05"/>
<circle cx="356.5" cy="598.2" r="2.05"/>
<circle cx="357.4" cy="596.2" r="2.05"/>
<circle cx="357.3" cy="598.2" r="2.05"/>
<circle cx="358.7" cy="596.4" r="2.05"/>
<circle cx="358.3" cy="598.2" r="2.05"/>
<circle cx="359.4" cy="596.3" r="2.05"/>
<circle cx="359.8" cy="598.3" r="2.05"/>
<circle cx="360.8" cy="596.2" r="2.05"/>
<circle cx="360.9" cy="598.2" r="2.05"/>
<circle cx="361.5" cy="596.2" r="2.05"/>
<circle cx="361.8" cy="598.3" r="2.05"/>
<circle cx="363.1" cy="596.3" r="2.05"/>
<circle cx="362.9" cy="598.2" r="2.05"/>
<circle cx="364.0" cy="596.2" r="2.05"/>
<circle cx="363.8" cy="598.2" r="2.05"/>
<circle cx="365.3" cy="596.3" r="2.05"/>
<circle cx="365.0" cy="598.2" r="2.05"/>
<circle cx="366.4" cy="596.4" r="2.05"/>
<circle cx="365.9" cy="598.2" r="2.05"/>
<circle cx="367.5" cy="596.5" r="2.05"/>
<circle cx="367.0" cy="598.1" r="2.05"/>
<circle cx="368.3" cy="596.5" r="2.05"/>
<circle cx="368.4" cy="597.9" r="2.05"/>
<circle cx="369.2" cy="596.4" r="2.05"/>
<circle cx="369.3" cy="598.0" r="2.05"/>
<circle cx="370.8" cy="596.2" r="2.05"/>
<circle cx="370.4" cy="598.0" r="2.05"/>
<circle cx="371.6" cy="596.2" r="2.05"/>
<circle cx="371.6" cy="598.1" r="2.05"/>
<circle cx="372.6" cy="596.2" r="2.05"/>
<circle cx="373.0" cy="598.0" r="2.05"/>
<circle cx="373.9" cy="596.2" r="2.05"/>
<circle cx="373.6" cy="598.0" r="2.05"/>
<circle cx="374.7" cy="596.4" r="2.05"/>
<circle cx="375.0" cy="598.1" r="2.05"/>
<circle cx="375.9" cy="596.3" r="2.05"/>
<circle cx="376.1" cy="598.1" r="2.05"/>
<circle cx="377.2" cy="596.3" r="2.05"/>
<circle cx="377.1" cy="598.1" r="2.05"/>
<circle cx="378.3" cy="596.2" r="2.05"/>
<circle cx="378.1" cy="598.1" r="2.05"/>
<circle cx="379.5" cy="596.4" r="2.05"/>
<circle cx="379.2" cy="598.1" r="2.05"/>
<circle cx="380.2" cy="596.3" r="2.05"/>
<circle cx="380.4" cy="598.2" r="2.05"/>
<circle cx="381.5" cy="596.2" r="2.05"/>
<circle cx="381.3" cy="598.1" r="2.05"/>
<circle cx="382.4" cy="596.4" r="2.05"/>
<circle cx="382.8" cy="598.0" r="2.05"/>
<circle cx="383.5" cy="596.3" r="2.05"/>
<circle cx="383.7" cy="598.1" r="2.05"/>
<circle cx="384.6" cy="596.5" r="2.05"/>
<circle cx="385.1" cy="597.9" r="2.05"/>
<circle cx="386.1" cy="596.4" r="2.05"/>
<circle cx="386.2" cy="598.1" r="2.05"/>
<circle cx="387.3" cy="596.3" r="2.05"/>
<circle cx="386.8" cy="597.9" r="2.05"/>
<circle cx="388.4" cy="596.5" r="2.05"/>
<circle cx="388.1" cy="598.1" r="2.05"/>
<circle cx="389.0" cy="596.4" r="2.05"/>
<circle cx="389.1" cy="597.9" r="2.05"/>
<circle cx="390.1" cy="596.5" r="2.05"/>
<circle cx="390.6" cy="598.1" r="2.05"/>
<circle cx="391.3" cy="596.3" r="2.05"/>
<circle cx="391.3" cy="598.1" r="2.05"/>
<circle cx="392.4" cy="596.3" r="2.05"/>
<circle cx="392.8" cy="598.1" r="2.05"/>
<circle cx="393.9" cy="596.4" r="2.05"/>
<circle cx="393.8" cy="598.1" r="2.05"/>
<circle cx="394.8" cy="596.3" r="2.05"/>
<circle cx="394.7" cy="598.0" r="2.05"/>
<circle cx="395.9" cy="596.5" r="2.05"/>
<circle cx="396.1" cy="598.0" r="2.05"/>
<circle cx="397.2" cy="596.3" r="2.05"/>
<circle cx="396.9" cy="598.0" r="2.05"/>
<circle cx="397.9" cy="596.5" r="2.05"/>
<circle cx="398.1" cy="597.8" r="2.05"/>
<circle cx="399.3" cy="596.3" r="2.05"/>
<circle cx="399.0" cy="598.0" r="2.05"/>
<circle cx="400.0" cy="596.5" r="2.05"/>
<circle cx="400.1" cy="597.9" r="2.05"/>
<circle cx="401.6" cy="596.4" r="2.05"/>
<circle cx="401.4" cy="598.0" r="2.05"/>
<circle cx="402.2" cy="596.3" r="2.05"/>
<circle cx="402.2" cy="598.1" r="2.05"/>
<circle cx="403.5" cy="596.4" r="2.05"/>
<circle cx="403.8" cy="598.0" r="2.05"/>
<circle cx="404.5" cy="596.3" r="2.05"/>
<circle cx="404.4" cy="598.0" r="2.05"/>
<circle cx="405.7" cy="596.3" r="2.05"/>
<circle cx="405.7" cy="598.1" r="2.05"/>
<circle cx="406.9" cy="596.3" r="2.05"/>
<circle cx="406.7" cy="598.0" r="2.05"/>
<circle cx="407.9" cy="596.4" r="2.05"/>
<circle cx="408.2" cy="598.1" r="2.05"/>
<circle cx="408.8" cy="596.3" r="2.05"/>
<circle cx="409.1" cy="598.1" r="2.05"/>
<circle cx="410.3" cy="596.6" r="2.05"/>
<circle cx="410.0" cy="598.0" r="2.05"/>
<circle cx="411.3" cy="596.3" r="2.05"/>
<circle cx="411.2" cy="598.0" r="2.05"/>
<circle cx="412.3" cy="596.4" r="2.05"/>
<circle cx="412.5" cy="597.8" r="2.05"/>
<circle cx="413.7" cy="596.3" r="2.05"/>
<circle cx="413.5" cy="598.1" r="2.05"/>
<circle cx="414.4" cy="596.4" r="2.05"/>
<circle cx="414.7" cy="598.1" r="2.05"/>
<circle cx="415.7" cy="596.3" r="2.05"/>
<circle cx="415.4" cy="597.8" r="2.05"/>
<circle cx="416.8" cy="596.3" r="2.05"/>
<circle cx="416.8" cy="598.0" r="2.05"/>
<circle cx="417.7" cy="596.5" r="2.05"/>
<circle cx="417.7" cy="598.0" r="2.05"/>
<circle cx="419.2" cy="596.3" r="2.05"/>
<circle cx="419.1" cy="597.9" r="2.05"/>
<circle cx="420.1" cy="597.8" r="2.05"/>
<circle cx="429.3" cy="596.0" r="2.05"/>
<circle cx="433.9" cy="597.7" r="2.05"/>
<circle cx="436.2" cy="597.7" r="2.05"/>
<circle cx="443.1" cy="596.1" r="2.05"/>
<circle cx="447.7" cy="595.6" r="2.05"/>
<circle cx="450.0" cy="595.7" r="2.05"/>
<circle cx="452.3" cy="597.4" r="2.05"/>
<circle cx="454.6" cy="597.5" r="2.05"/>
<circle cx="459.2" cy="595.9" r="2.05"/>
<circle cx="466.1" cy="595.9" r="2.05"/>
<circle cx="473.0" cy="596.2" r="2.05"/>
<circle cx="475.3" cy="596.0" r="2.05"/>
<circle cx="477.6" cy="596.2" r="2.05"/>
<circle cx="479.9" cy="595.8" r="2.05"/>
<circle cx="484.5" cy="597.3" r="2.05"/>
<circle cx="500.6" cy="596.1" r="2.05"/>
<circle cx="502.9" cy="595.6" r="2.05"/>
<circle cx="509.8" cy="597.4" r="2.05"/>
<circle cx="512.1" cy="596.1" r="2.05"/>
<circle cx="514.4" cy="597.1" r="2.05"/>
<circle cx="516.7" cy="597.2" r="2.05"/>
<circle cx="530.5" cy="595.8" r="2.05"/>
<circle cx="532.8" cy="596.1" r="2.05"/>
<circle cx="539.7" cy="595.9" r="2.05"/>
<circle cx="542.0" cy="597.1" r="2.05"/>
<circle cx="544.3" cy="596.3" r="2.05"/>
<circle cx="553.5" cy="597.5" r="2.05"/>
<circle cx="562.7" cy="595.7" r="2.05"/>
<circle cx="565.0" cy="596.2" r="2.05"/>
<circle cx="569.6" cy="595.9" r="2.05"/>
<circle cx="571.9" cy="597.7" r="2.05"/>
<circle cx="578.8" cy="596.1" r="2.05"/>
<circle cx="581.1" cy="597.7" r="2.05"/>
<circle cx="585.7" cy="595.7" r="2.05"/>
<circle cx="588.0" cy="596.1" r="2.05"/>
<circle cx="590.3" cy="595.8" r="2.05"/>
<circle cx="597.2" cy="597.4" r="2.05"/>
<circle cx="604.1" cy="597.5" r="2.05"/>
<circle cx="611.0" cy="595.8" r="2.05"/>
<circle cx="620.2" cy="596.1" r="2.05"/>
<circle cx="622.5" cy="596.2" r="2.05"/>
<circle cx="627.1" cy="595.7" r="2.05"/>
<circle cx="634.0" cy="596.2" r="2.05"/>
<circle cx="638.6" cy="597.4" r="2.05"/>
<circle cx="640.9" cy="597.5" r="2.05"/>
<circle cx="650.1" cy="597.1" r="2.05"/>
<circle cx="652.4" cy="597.5" r="2.05"/>
<circle cx="673.1" cy="595.9" r="2.05"/>
<circle cx="677.7" cy="595.8" r="2.05"/>
<circle cx="680.0" cy="597.5" r="2.05"/>
<circle cx="684.6" cy="597.4" r="2.05"/>
<circle cx="686.9" cy="597.4" r="2.05"/>
<circle cx="696.1" cy="596.1" r="2.05"/>
<circle cx="703.0" cy="596.2" r="2.05"/>
<circle cx="712.2" cy="597.4" r="2.05"/>
<circle cx="726.0" cy="597.2" r="2.05"/>
<circle cx="730.6" cy="595.9" r="2.05"/>
<circle cx="737.5" cy="597.3" r="2.05"/>
<circle cx="739.8" cy="597.6" r="2.05"/>
<circle cx="749.0" cy="597.5" r="2.05"/>
<circle cx="755.9" cy="597.4" r="2.05"/>
<circle cx="758.1" cy="595.8" r="2.05"/>
<circle cx="767.3" cy="596.1" r="2.05"/>
<circle cx="778.8" cy="595.9" r="2.05"/>
<circle cx="785.7" cy="597.5" r="2.05"/>
<circle cx="799.5" cy="597.3" r="2.05"/>
<circle cx="806.4" cy="597.2" r="2.05"/>
<circle cx="808.7" cy="597.1" r="2.05"/>
<circle cx="817.9" cy="597.4" r="2.05"/>
<circle cx="820.2" cy="596.2" r="2.05"/>
<circle cx="822.5" cy="597.2" r="2.05"/>
<circle cx="824.8" cy="595.8" r="2.05"/>
<circle cx="827.1" cy="597.3" r="2.05"/>
<circle cx="829.4" cy="597.5" r="2.05"/>
<circle cx="831.7" cy="595.9" r="2.05"/>
<circle cx="840.9" cy="596.0" r="2.05"/>
<circle cx="845.5" cy="596.0" r="2.05"/>
<circle cx="847.8" cy="595.9" r="2.05"/>
<circle cx="861.6" cy="596.0" r="2.05"/>
<circle cx="866.2" cy="597.3" r="2.05"/>
<circle cx="875.4" cy="597.6" r="2.05"/>
<circle cx="880.0" cy="597.4" r="2.05"/>
<circle cx="882.3" cy="595.9" r="2.05"/>
<circle cx="886.9" cy="596.0" r="2.05"/>
<circle cx="893.8" cy="597.4" r="2.05"/>
<circle cx="896.1" cy="597.3" r="2.05"/>
<circle cx="905.3" cy="597.3" r="2.05"/>
<circle cx="912.2" cy="597.3" r="2.05"/>
<circle cx="916.8" cy="597.6" r="2.05"/>
<circle cx="923.7" cy="597.5" r="2.05"/>
<circle cx="926.0" cy="595.9" r="2.05"/>
<circle cx="928.3" cy="597.4" r="2.05"/>
<circle cx="930.6" cy="597.1" r="2.05"/>
<circle cx="932.9" cy="597.4" r="2.05"/>
<circle cx="955.9" cy="597.4" r="2.05"/>
<circle cx="958.2" cy="595.9" r="2.05"/>
<circle cx="960.5" cy="595.8" r="2.05"/>
<circle cx="965.1" cy="595.9" r="2.05"/>
<circle cx="969.7" cy="597.2" r="2.05"/>
<circle cx="972.0" cy="596.1" r="2.05"/>
<circle cx="978.9" cy="595.9" r="2.05"/>
<circle cx="983.5" cy="597.3" r="2.05"/>
<circle cx="985.8" cy="597.4" r="2.05"/>
<circle cx="992.7" cy="597.4" r="2.05"/>
<circle cx="995.0" cy="597.2" r="2.05"/>
<circle cx="997.3" cy="596.1" r="2.05"/>
<circle cx="999.6" cy="595.8" r="2.05"/>
<circle cx="1004.2" cy="596.3" r="2.05"/>
<circle cx="1006.5" cy="596.1" r="2.05"/>
<circle cx="1013.4" cy="596.0" r="2.05"/>
<circle cx="1015.7" cy="597.3" r="2.05"/>
<circle cx="1020.3" cy="596.0" r="2.05"/>
<circle cx="1022.6" cy="595.9" r="2.05"/>
<circle cx="1029.5" cy="597.4" r="2.05"/>
<circle cx="1031.8" cy="597.4" r="2.05"/>
<circle cx="1034.1" cy="597.3" r="2.05"/>
<circle cx="1036.4" cy="596.2" r="2.05"/>
<circle cx="1043.3" cy="597.5" r="2.05"/>
<circle cx="1047.9" cy="597.2" r="2.05"/>
<circle cx="1050.2" cy="597.5" r="2.05"/>
<circle cx="1054.8" cy="596.0" r="2.05"/>
<circle cx="1057.1" cy="597.6" r="2.05"/>
<circle cx="1059.4" cy="597.4" r="2.05"/>
<circle cx="1068.6" cy="596.2" r="2.05"/>
<circle cx="1070.9" cy="596.0" r="2.05"/>
<circle cx="1077.8" cy="595.9" r="2.05"/>
<circle cx="1084.7" cy="597.2" r="2.05"/>
<circle cx="1087.0" cy="597.5" r="2.05"/>
<circle cx="1089.3" cy="596.2" r="2.05"/>
<circle cx="1091.6" cy="597.3" r="2.05"/>
<circle cx="1093.9" cy="597.3" r="2.05"/>
<circle cx="1096.2" cy="597.3" r="2.05"/>
<circle cx="1098.5" cy="597.4" r="2.05"/>
<circle cx="1100.8" cy="597.5" r="2.05"/>
<circle cx="1110.0" cy="596.3" r="2.05"/>
<circle cx="1114.6" cy="597.2" r="2.05"/>
<circle cx="1119.2" cy="595.9" r="2.05"/>
<circle cx="1126.1" cy="597.4" r="2.05"/>
<circle cx="1128.4" cy="596.2" r="2.05"/>
<circle cx="1133.0" cy="596.3" r="2.05"/>
<circle cx="1142.2" cy="597.3" r="2.05"/>
<circle cx="1153.7" cy="596.2" r="2.05"/>
<circle cx="1158.3" cy="596.3" r="2.05"/>
<circle cx="1172.1" cy="597.5" r="2.05"/>
<circle cx="1176.7" cy="597.3" r="2.05"/>
<circle cx="192.0" cy="600.3" r="2.05"/>
<circle cx="194.2" cy="600.0" r="2.05"/>
<circle cx="193.5" cy="750.5" r="2.05"/>
<circle cx="192.3" cy="802.2" r="2.05"/>
<circle cx="420.5" cy="594.8" r="2.05"/>
<circle cx="424.2" cy="594.9" r="2.05"/>
</g>
<line x1="143" y1="597.45" x2="1178" y2="597.45" stroke="#00ff00" stroke-width="3.125"/>
<line x1="143.4" y1="596.35" x2="1178" y2="596.35" stroke="#008000" stroke-width="3.125" stroke-dasharray="11.5625 5"/>
</g>
</g>
<g id="labels" opacity="0.999">
<text x="231.50" y="36.80" font-size="26.50" textLength="735.30" lengthAdjust="spacingAndGlyphs">Timestamp Intervals - US003T_20260217_011232_633620</text>
<text x="389.00" y="63.60" font-size="17.84" textLength="420.00" lengthAdjust="spacingAndGlyphs">Jitter Quality (intervals within +/-1 frame): 100.0%</text>
<text x="305.00" y="85.50" font-size="17.84" textLength="589.60" lengthAdjust="spacingAndGlyphs">Dropped Frame Rate (intervals &gt;1 frames late within 50 FF files): 0.0%</text>
<text x="82.00" y="98.00" font-size="22.60" textLength="44.00" lengthAdjust="spacingAndGlyphs">10.4</text>
<text x="82.00" y="333.00" font-size="22.60" textLength="45.00" lengthAdjust="spacingAndGlyphs">10.3</text>
<text x="82.00" y="568.00" font-size="22.60" textLength="44.00" lengthAdjust="spacingAndGlyphs">10.2</text>
<text x="69.00" y="605.00" font-size="22.60" textLength="58.00" lengthAdjust="spacingAndGlyphs">0.000</text>
<text x="53.00" y="659.00" font-size="22.60" textLength="74.00" lengthAdjust="spacingAndGlyphs">−0.002</text>
<text x="53.00" y="714.00" font-size="22.60" textLength="75.00" lengthAdjust="spacingAndGlyphs">−0.004</text>
<text x="52.00" y="769.00" font-size="22.60" textLength="75.00" lengthAdjust="spacingAndGlyphs">−0.006</text>
<text x="226.00" y="843.00" font-size="22.60" textLength="58.50" lengthAdjust="spacingAndGlyphs">02:00</text>
<text x="388.00" y="843.00" font-size="22.60" textLength="58.50" lengthAdjust="spacingAndGlyphs">04:00</text>
<text x="550.00" y="843.00" font-size="22.60" textLength="58.50" lengthAdjust="spacingAndGlyphs">06:00</text>
<text x="712.00" y="843.00" font-size="22.60" textLength="58.50" lengthAdjust="spacingAndGlyphs">08:00</text>
<text x="874.00" y="843.00" font-size="22.60" textLength="58.50" lengthAdjust="spacingAndGlyphs">10:00</text>
<text x="1035.00" y="843.00" font-size="22.60" textLength="58.50" lengthAdjust="spacingAndGlyphs">12:00</text>
<text x="601.50" y="871.80" font-size="22.08" textLength="116.00" lengthAdjust="spacingAndGlyphs">Time (UTC)</text>
<text x="778.50" y="113.90" font-size="15.33" textLength="291.00" lengthAdjust="spacingAndGlyphs">Intervals, max (10.248s), min (10.240s)</text>
<text x="779.50" y="135.10" font-size="15.33" textLength="183.00" lengthAdjust="spacingAndGlyphs">Possible Dropped Frames</text>
<text x="779.50" y="156.30" font-size="15.33" textLength="258.00" lengthAdjust="spacingAndGlyphs">Expected (10.247s), (24.98239 fps)</text>
<text x="779.50" y="177.50" font-size="15.33" textLength="385.00" lengthAdjust="spacingAndGlyphs">Median (10.247 +/- 0.000 s), (24.98234 +/- 0.00 fps)</text>
<text x="779.50" y="198.80" font-size="15.33" textLength="176.00" lengthAdjust="spacingAndGlyphs">-1/fps Interval (10.207s)</text>
<text x="779.50" y="220.00" font-size="15.33" textLength="183.00" lengthAdjust="spacingAndGlyphs">+1/fps Interval (10.287s)</text>
<text transform="translate(68.00 425.00) rotate(-90)" font-size="22.08" textLength="198.00" lengthAdjust="spacingAndGlyphs">Intervals (seconds)</text>
<text transform="translate(37.00 800.00) rotate(-90)" font-size="22.08" textLength="206.00" lengthAdjust="spacingAndGlyphs">Residuals (seconds)</text>
</g>
</svg></body></html>
